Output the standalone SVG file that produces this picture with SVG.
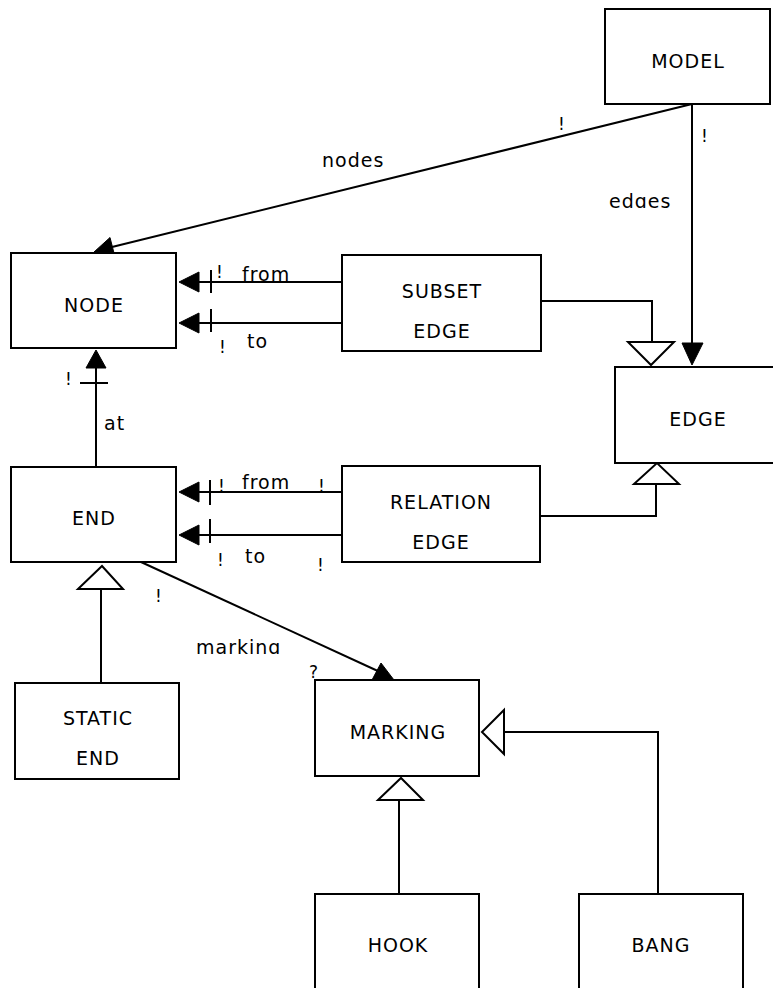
<svg xmlns="http://www.w3.org/2000/svg" width="773" height="988" viewBox="0 0 773 988">
  <style>
    .box { fill: #ffffff; stroke: #000000; stroke-width: 2; }
    .name { font-family: "DejaVu Sans", "Liberation Sans", sans-serif; font-size: 19px; letter-spacing: 1px; fill: #000000; text-anchor: middle; }
    .lbl { font-family: "DejaVu Sans", "Liberation Sans", sans-serif; font-size: 19px; letter-spacing: 1px; fill: #000000; }
    .mult { font-family: "DejaVu Sans", "Liberation Sans", sans-serif; font-size: 17px; fill: #000000; }
    .ln { fill: none; stroke: #000000; stroke-width: 2; }
    .solid { fill: #000000; stroke: #000000; stroke-width: 1; }
    .hollow { fill: #ffffff; stroke: #000000; stroke-width: 2; stroke-linejoin: miter; }
  </style>
  <defs>
    <clipPath id="clipEdges"><rect x="590" y="180" width="100" height="28"/></clipPath>
    <clipPath id="clipMarking"><rect x="180" y="625" width="120" height="29"/></clipPath>
  </defs>
  <rect x="0" y="0" width="773" height="988" fill="#ffffff"/>

  <!-- connectors -->
  <g id="connectors">
    <!-- MODEL.nodes -> NODE -->
    <line class="ln" x1="692" y1="104" x2="112" y2="247"/>
    <polygon class="solid" points="94,252 115,257 110,237.5"/>
    <!-- MODEL.edges -> EDGE -->
    <line class="ln" x1="692" y1="104" x2="692" y2="343"/>
    <polygon class="solid" points="682,343 703,343 692,365"/>
    <!-- SUBSET EDGE is-a EDGE -->
    <polyline class="ln" points="541,301 652,301 652,342"/>
    <polygon class="hollow" points="628,342 674,342 651,365"/>
    <!-- SUBSET EDGE.from -> NODE -->
    <line class="ln" x1="342" y1="282" x2="198" y2="282"/>
    <polygon class="solid" points="199,272 199,292 179,282"/>
    <line class="ln" x1="211" y1="270" x2="211" y2="293"/>
    <!-- SUBSET EDGE.to -> NODE -->
    <line class="ln" x1="342" y1="323" x2="198" y2="323"/>
    <polygon class="solid" points="199,313 199,333 179,323"/>
    <line class="ln" x1="211" y1="309" x2="211" y2="332"/>
    <!-- END.at -> NODE -->
    <line class="ln" x1="96" y1="467" x2="96" y2="367"/>
    <polygon class="solid" points="86,368 106,368 96,350"/>
    <line class="ln" x1="80" y1="383" x2="108" y2="383"/>
    <!-- RELATION EDGE.from -> END -->
    <line class="ln" x1="342" y1="492" x2="198" y2="492"/>
    <polygon class="solid" points="199,482 199,502 179,492"/>
    <line class="ln" x1="210" y1="480" x2="210" y2="505"/>
    <!-- RELATION EDGE.to -> END -->
    <line class="ln" x1="342" y1="535" x2="198" y2="535"/>
    <polygon class="solid" points="199,525 199,545 179,535"/>
    <line class="ln" x1="210" y1="519" x2="210" y2="543"/>
    <!-- RELATION EDGE is-a EDGE -->
    <polyline class="ln" points="540,516 656,516 656,484"/>
    <polygon class="hollow" points="634,484 679,484 657,463"/>
    <!-- STATIC END is-a END -->
    <line class="ln" x1="101" y1="683" x2="101" y2="589"/>
    <polygon class="hollow" points="78,589 123,589 102,566"/>
    <!-- END.marking -> MARKING -->
    <line class="ln" x1="141" y1="562" x2="380" y2="672"/>
    <polygon class="solid" points="381,663 372,680 394,680"/>
    <!-- HOOK is-a MARKING -->
    <line class="ln" x1="399" y1="894" x2="399" y2="800"/>
    <polygon class="hollow" points="378,800 423,800 401,778"/>
    <!-- BANG is-a MARKING -->
    <polyline class="ln" points="658,894 658,732 504,732"/>
    <polygon class="hollow" points="504,710 504,754 482,732"/>
  </g>

  <!-- connector labels -->
  <g id="labels">
    <text class="lbl" x="322" y="167">nodes</text>
    <text class="mult" x="558" y="130">!</text>
    <text class="mult" x="701" y="142">!</text>
    <text class="lbl" x="609" y="208" clip-path="url(#clipEdges)">edges</text>
    <text class="mult" x="216" y="278">!</text>
    <text class="lbl" x="242" y="281">from</text>
    <text class="mult" x="219" y="353">!</text>
    <text class="lbl" x="247" y="348">to</text>
    <text class="mult" x="65" y="385">!</text>
    <text class="lbl" x="104" y="430">at</text>
    <text class="mult" x="218" y="492">!</text>
    <text class="lbl" x="242" y="489">from</text>
    <text class="mult" x="318" y="492">!</text>
    <text class="mult" x="217" y="566">!</text>
    <text class="lbl" x="245" y="563">to</text>
    <text class="mult" x="317" y="571">!</text>
    <text class="mult" x="155" y="602">!</text>
    <text class="lbl" x="196" y="654" clip-path="url(#clipMarking)">marking</text>
    <text class="mult" x="309" y="678">?</text>
  </g>

  <!-- nodes -->
  <g id="model">
    <rect class="box" x="605" y="9" width="165" height="95"/>
    <text class="name" x="688" y="68">MODEL</text>
  </g>
  <g id="node">
    <rect class="box" x="11" y="253" width="165" height="95"/>
    <text class="name" x="94" y="312">NODE</text>
  </g>
  <g id="subset-edge">
    <rect class="box" x="342" y="255" width="199" height="96"/>
    <text class="name" x="442" y="298">SUBSET</text>
    <text class="name" x="442" y="338">EDGE</text>
  </g>
  <g id="edge">
    <rect class="box" x="615" y="367" width="170" height="96"/>
    <text class="name" x="698" y="426">EDGE</text>
  </g>
  <g id="end">
    <rect class="box" x="11" y="467" width="165" height="95"/>
    <text class="name" x="94" y="525">END</text>
  </g>
  <g id="relation-edge">
    <rect class="box" x="342" y="466" width="198" height="96"/>
    <text class="name" x="441" y="509">RELATION</text>
    <text class="name" x="441" y="549">EDGE</text>
  </g>
  <g id="static-end">
    <rect class="box" x="15" y="683" width="164" height="96"/>
    <text class="name" x="98" y="725">STATIC</text>
    <text class="name" x="98" y="765">END</text>
  </g>
  <g id="marking">
    <rect class="box" x="315" y="680" width="164" height="96"/>
    <text class="name" x="398" y="739">MARKING</text>
  </g>
  <g id="hook">
    <rect class="box" x="315" y="894" width="164" height="110"/>
    <text class="name" x="398" y="952">HOOK</text>
  </g>
  <g id="bang">
    <rect class="box" x="579" y="894" width="164" height="110"/>
    <text class="name" x="661" y="952">BANG</text>
  </g>
</svg>
